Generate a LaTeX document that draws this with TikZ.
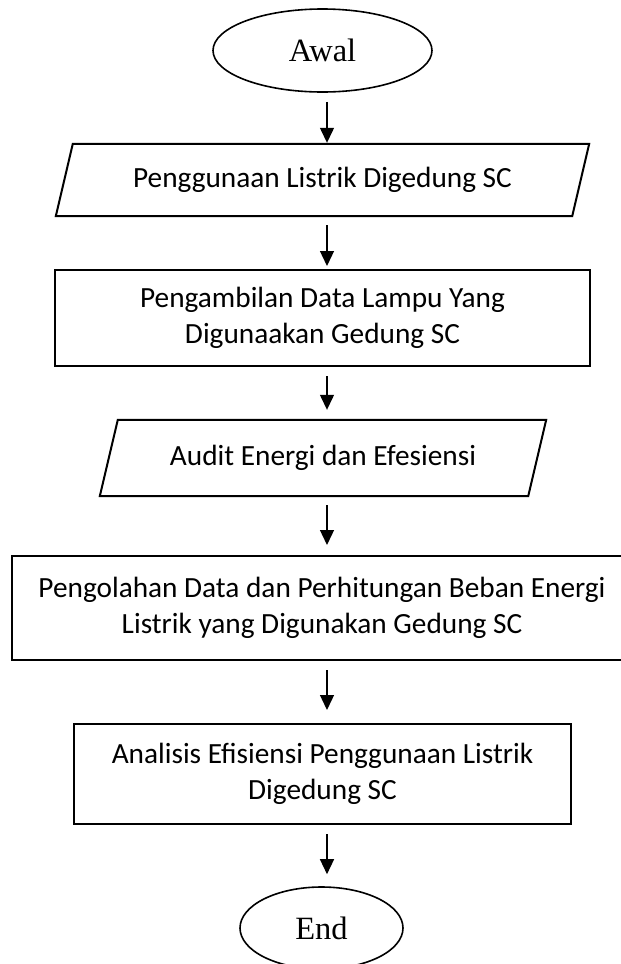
\documentclass[tikz,border=0pt]{standalone}
\usepackage{fontspec}
\setmainfont{Carlito}
\newfontfamily\timesfont{Liberation Serif}
\usetikzlibrary{shapes.geometric,arrows.meta}

\tikzset{
  terminal/.style={ellipse, draw, line width=1.6pt, inner sep=0pt,
    font=\timesfont\fontsize{32.5}{38}\selectfont},
  proses/.style={rectangle, draw, line width=2pt, inner sep=0pt, align=center,
    font=\fontsize{29.3}{36}\selectfont},
  dataio/.style={rectangle, inner sep=0pt, align=center,
    font=\fontsize{29.3}{36}\selectfont},
  miring/.style={line width=2pt, line join=miter},
  flow/.style={-{Triangle[length=15pt,width=14pt]}, line width=1.3pt, shorten <=9pt}
}

\begin{document}
\begin{tikzpicture}[x=1pt,y=-1pt]
  \useasboundingbox (0,0) rectangle (621,964);
  % alur kerja
  \node[terminal, minimum width=219pt, minimum height=83pt] (awal) at (322.5,50.5) {Awal};
  \node[dataio, minimum width=516pt, minimum height=72pt] (data1) at (322.5,180) {Penggunaan Listrik Digedung SC};
  \node[proses, minimum width=535pt, minimum height=96pt] (ambil) at (322.5,318) {Pengambilan Data Lampu Yang\\Digunaakan Gedung SC};
  \node[dataio, minimum width=428pt, minimum height=76pt] (data2) at (323,458) {Audit Energi dan Efesiensi};
  \node[proses, minimum width=620pt, minimum height=104pt] (olah) at (322,608) {Pengolahan Data dan Perhitungan Beban Energi\\Listrik yang Digunakan Gedung SC};
  \node[proses, minimum width=497pt, minimum height=100pt] (analisis) at (322.5,774) {Analisis Efisiensi Penggunaan Listrik\\Digedung SC};
  \node[terminal, minimum width=163pt, minimum height=82pt] (akhir) at (321.5,928) {End};
  % jajaran genjang
  \draw[miring] ([xshift=8.5pt]data1.north west) -- ([xshift=8.5pt]data1.north east)
    -- ([xshift=-8.5pt]data1.south east) -- ([xshift=-8.5pt]data1.south west) -- cycle;
  \draw[miring] ([xshift=9pt]data2.north west) -- ([xshift=9pt]data2.north east)
    -- ([xshift=-9pt]data2.south east) -- ([xshift=-9pt]data2.south west) -- cycle;
  % panah
  \coordinate (kol) at (327,0);
  \draw[flow, shorten >=1pt] (awal.south -| kol) -- (data1.north -| kol);
  \draw[flow, shorten >=3pt] (data1.south -| kol) -- (ambil.north -| kol);
  \draw[flow, shorten >=10pt] (ambil.south -| kol) -- (data2.north -| kol);
  \draw[flow, shorten >=10pt] (data2.south -| kol) -- (olah.north -| kol);
  \draw[flow, shorten >=13pt] (olah.south -| kol) -- (analisis.north -| kol);
  \draw[flow, shorten >=12pt] (analisis.south -| kol) -- (akhir.north -| kol);
\end{tikzpicture}
\end{document}
